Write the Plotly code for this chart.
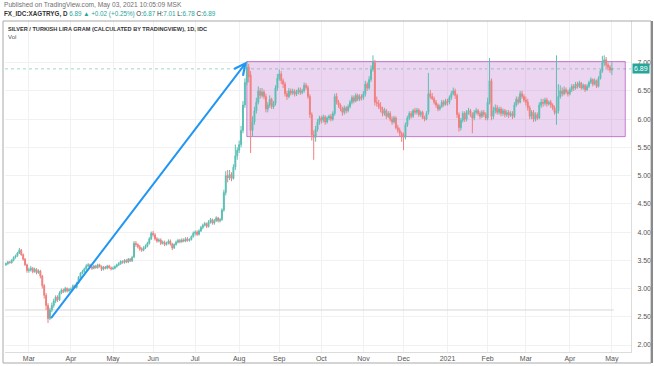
import pandas as pd
import plotly.graph_objects as go

# ---------------- data ----------------
START_DATE = "2020-02-13"
END_DATE = "2021-05-03"

OPEN = [
    3.42, 3.44, 3.47, 3.46, 3.50, 3.55, 3.58, 3.63, 3.68, 3.60, 3.52, 3.42,
    3.32, 3.33, 3.36, 3.30, 3.34, 3.28, 3.31, 3.22, 3.05, 2.88, 2.70, 2.47, 2.62, 2.70, 2.78, 2.85, 2.80, 2.92, 2.97, 2.95, 3.00, 2.96,
    2.98, 2.99, 3.05, 3.02, 3.10, 3.20, 3.27, 3.30, 3.35, 3.40, 3.42, 3.38, 3.36, 3.40, 3.37, 3.42, 3.39, 3.34, 3.38, 3.36, 3.40, 3.37,
    3.35, 3.36, 3.39, 3.42, 3.44, 3.48, 3.46, 3.50, 3.47, 3.52, 3.49, 3.56, 3.80, 3.78, 3.74, 3.70, 3.68, 3.72, 3.75, 3.80, 3.88,
    3.98, 3.95, 3.88, 3.84, 3.86, 3.80, 3.82, 3.78, 3.80, 3.84, 3.79, 3.72, 3.78, 3.82, 3.85, 3.83, 3.86, 3.84, 3.88, 3.85, 3.87, 3.92,
    3.98, 4.00, 3.96, 4.02, 4.08, 4.12, 4.15, 4.10, 4.18, 4.22, 4.16, 4.20, 4.25, 4.20, 4.22, 4.39, 4.70, 5.00, 4.96, 5.02, 4.95, 5.15, 5.35,
    5.45, 5.55, 5.80, 6.25, 6.65, 6.92, 6.78, 5.80, 5.95, 6.15, 6.30, 6.50, 6.42, 6.48, 6.40, 6.18, 6.25, 6.35, 6.22, 6.28, 6.55,
    6.72, 6.80, 6.68, 6.62, 6.45, 6.40, 6.50, 6.46, 6.50, 6.44, 6.48, 6.52, 6.47, 6.50, 6.60, 6.56, 6.40, 6.08, 5.72, 5.68, 5.82, 5.95,
    6.02, 5.98, 6.04, 5.95, 6.02, 6.05, 6.00, 6.10, 6.40, 6.30, 6.25, 6.18, 6.12, 6.20, 6.15, 6.22, 6.30, 6.38, 6.32, 6.42, 6.35, 6.40,
    6.38, 6.45, 6.62, 6.55, 6.70, 6.88, 7.00, 6.30, 6.28, 6.22, 6.18, 6.10, 6.15, 6.05, 6.10, 6.00, 5.95, 6.02, 5.85, 5.80, 5.75,
    5.72, 5.68, 5.90, 6.02, 6.10, 6.05, 6.15, 6.12, 6.16, 6.08, 6.12, 6.02, 6.00, 6.12, 6.45, 6.40, 6.36, 6.30, 6.25, 6.18, 6.22, 6.30, 6.26,
    6.32, 6.30, 6.38, 6.45, 6.50, 6.42, 6.08, 5.85, 5.98, 6.10, 6.00, 6.12, 6.15, 6.08, 6.02, 6.12, 6.15, 6.10, 6.05, 6.12, 6.08,
    6.02, 6.30, 6.68, 6.05, 6.15, 6.20, 6.12, 6.18, 6.10, 6.15, 6.08, 6.12, 6.07, 6.10, 6.05, 6.25, 6.35, 6.30, 6.45, 6.40,
    6.34, 6.30, 6.20, 6.05, 6.12, 6.00, 6.08, 6.02, 6.25, 6.30, 6.28, 6.34, 6.27, 6.30, 6.25, 6.20, 6.10, 6.15, 6.40, 6.50, 6.45, 6.52, 6.48,
    6.45, 6.52, 6.58, 6.55, 6.62, 6.58, 6.64, 6.55, 6.60, 6.52, 6.58, 6.65, 6.70, 6.62, 6.68, 6.58, 6.72, 6.85, 7.00, 7.05, 6.96, 6.92,
    6.87,
]
HIGH = [
    3.46, 3.49, 3.49, 3.52, 3.57, 3.60, 3.65, 3.72, 3.70, 3.62, 3.54, 3.44,
    3.37, 3.40, 3.38, 3.37, 3.36, 3.34, 3.33, 3.24, 3.08, 2.92, 2.74, 2.66, 2.75, 2.82, 2.88, 2.88, 2.95, 3.00, 3.00, 3.03, 3.02, 3.01,
    3.02, 3.07, 3.07, 3.12, 3.22, 3.29, 3.33, 3.37, 3.43, 3.45, 3.44, 3.40, 3.42, 3.42, 3.44, 3.44, 3.41, 3.40, 3.40, 3.42, 3.42, 3.39,
    3.39, 3.41, 3.44, 3.47, 3.50, 3.50, 3.52, 3.52, 3.54, 3.54, 3.58, 3.84, 3.84, 3.80, 3.77, 3.73, 3.75, 3.78, 3.83, 3.91, 4.01,
    4.02, 3.98, 3.91, 3.89, 3.89, 3.85, 3.85, 3.83, 3.87, 3.87, 3.81, 3.80, 3.85, 3.88, 3.88, 3.89, 3.89, 3.91, 3.91, 3.89, 3.94, 4.01,
    4.03, 4.03, 4.05, 4.11, 4.15, 4.18, 4.17, 4.21, 4.25, 4.24, 4.23, 4.28, 4.27, 4.25, 4.42, 4.75, 5.08, 5.10, 5.10, 5.06, 5.20, 5.55, 5.50,
    5.62, 5.88, 6.32, 6.72, 7.02, 6.98, 6.85, 6.05, 6.22, 6.38, 6.58, 6.55, 6.55, 6.52, 6.45, 6.30, 6.42, 6.38, 6.32, 6.60, 6.80,
    6.88, 6.85, 6.72, 6.66, 6.50, 6.55, 6.54, 6.54, 6.53, 6.52, 6.56, 6.56, 6.54, 6.65, 6.64, 6.60, 6.44, 6.12, 5.80, 5.88, 6.00, 6.06,
    6.06, 6.08, 6.07, 6.05, 6.08, 6.09, 6.14, 6.45, 6.46, 6.34, 6.28, 6.22, 6.24, 6.23, 6.26, 6.34, 6.42, 6.42, 6.46, 6.45, 6.44, 6.44,
    6.50, 6.68, 6.66, 6.76, 6.95, 7.13, 7.05, 6.40, 6.34, 6.30, 6.22, 6.20, 6.18, 6.14, 6.14, 6.05, 6.06, 6.05, 5.90, 5.85, 5.78,
    5.76, 5.94, 6.06, 6.14, 6.14, 6.18, 6.20, 6.20, 6.19, 6.15, 6.15, 6.06, 6.14, 6.82, 6.52, 6.46, 6.40, 6.34, 6.28, 6.26, 6.34, 6.34, 6.36,
    6.36, 6.42, 6.50, 6.56, 6.54, 6.45, 6.12, 6.02, 6.14, 6.14, 6.16, 6.20, 6.18, 6.12, 6.16, 6.20, 6.18, 6.14, 6.16, 6.16, 6.12,
    6.38, 7.08, 6.72, 6.22, 6.26, 6.25, 6.22, 6.22, 6.19, 6.18, 6.16, 6.16, 6.14, 6.14, 6.30, 6.40, 6.40, 6.50, 6.50, 6.44,
    6.40, 6.36, 6.24, 6.16, 6.16, 6.12, 6.12, 6.30, 6.36, 6.36, 6.38, 6.38, 6.33, 6.34, 6.28, 6.24, 7.13, 6.62, 6.60, 6.56, 6.58, 6.56, 6.52,
    6.56, 6.62, 6.62, 6.66, 6.66, 6.68, 6.66, 6.63, 6.62, 6.62, 6.68, 6.74, 6.72, 6.72, 6.70, 6.76, 6.88, 7.12, 7.13, 7.10, 7.00, 6.96,
    7.01,
]
LOW = [
    3.40, 3.42, 3.44, 3.44, 3.48, 3.53, 3.56, 3.61, 3.58, 3.49, 3.40, 3.28,
    3.28, 3.30, 3.27, 3.28, 3.25, 3.26, 3.18, 3.00, 2.82, 2.62, 2.39, 2.44, 2.58, 2.66, 2.74, 2.76, 2.78, 2.90, 2.92, 2.93, 2.93, 2.94,
    2.95, 2.97, 3.00, 3.00, 3.08, 3.18, 3.25, 3.28, 3.33, 3.38, 3.36, 3.33, 3.34, 3.35, 3.35, 3.37, 3.31, 3.32, 3.34, 3.34, 3.35, 3.32,
    3.33, 3.34, 3.37, 3.40, 3.42, 3.44, 3.44, 3.45, 3.45, 3.47, 3.47, 3.54, 3.74, 3.71, 3.67, 3.65, 3.66, 3.70, 3.73, 3.78, 3.86,
    3.92, 3.85, 3.81, 3.82, 3.77, 3.78, 3.75, 3.76, 3.78, 3.76, 3.68, 3.70, 3.76, 3.80, 3.80, 3.81, 3.82, 3.82, 3.83, 3.83, 3.85, 3.90,
    3.94, 3.93, 3.94, 4.00, 4.05, 4.10, 4.07, 4.08, 4.15, 4.13, 4.13, 4.18, 4.17, 4.17, 4.20, 4.36, 4.65, 4.88, 4.92, 4.90, 4.93, 5.10, 5.28,
    5.40, 5.50, 5.75, 6.20, 6.60, 6.65, 5.40, 5.70, 5.90, 6.10, 6.26, 6.36, 6.38, 6.35, 6.12, 6.12, 6.20, 6.18, 6.18, 6.24, 6.50,
    6.68, 6.62, 6.55, 6.40, 6.34, 6.37, 6.42, 6.43, 6.40, 6.41, 6.44, 6.43, 6.44, 6.47, 6.52, 6.36, 6.02, 5.62, 5.28, 5.60, 5.78, 5.90,
    5.92, 5.94, 5.90, 5.92, 5.98, 5.96, 5.97, 6.06, 6.26, 6.20, 6.14, 6.06, 6.08, 6.10, 6.12, 6.19, 6.26, 6.28, 6.30, 6.32, 6.32, 6.33,
    6.34, 6.40, 6.50, 6.52, 6.66, 6.84, 6.24, 6.22, 6.18, 6.12, 6.05, 6.06, 6.00, 6.02, 5.96, 5.90, 5.92, 5.82, 5.76, 5.70, 5.60,
    5.45, 5.64, 5.86, 5.98, 6.01, 6.02, 6.08, 6.08, 6.04, 6.04, 6.00, 5.96, 5.98, 6.08, 6.36, 6.34, 6.26, 6.20, 6.14, 6.15, 6.20, 6.22, 6.24,
    6.24, 6.26, 6.34, 6.42, 6.36, 6.02, 5.78, 5.80, 5.94, 5.95, 5.96, 6.08, 6.04, 5.75, 5.98, 6.08, 6.06, 6.00, 6.02, 6.04, 5.98,
    5.98, 6.26, 5.98, 6.00, 6.10, 6.08, 6.08, 6.05, 6.06, 6.03, 6.04, 6.02, 6.04, 6.00, 6.02, 6.22, 6.26, 6.28, 6.36, 6.30,
    6.24, 6.15, 6.00, 6.00, 5.95, 5.96, 5.98, 6.00, 6.20, 6.22, 6.24, 6.22, 6.24, 6.20, 6.16, 6.08, 5.90, 6.10, 6.36, 6.40, 6.42, 6.44, 6.40,
    6.42, 6.48, 6.50, 6.52, 6.54, 6.55, 6.52, 6.52, 6.48, 6.50, 6.55, 6.62, 6.58, 6.60, 6.55, 6.56, 6.70, 6.82, 6.94, 6.90, 6.86, 6.82,
    6.78,
]
CLOSE = [
    3.44, 3.47, 3.46, 3.50, 3.55, 3.58, 3.63, 3.68, 3.60, 3.52, 3.42, 3.32,
    3.33, 3.36, 3.30, 3.34, 3.28, 3.31, 3.22, 3.05, 2.88, 2.70, 2.47, 2.62, 2.70, 2.78, 2.85, 2.80, 2.92, 2.97, 2.95, 3.00, 2.96, 2.98,
    2.99, 3.05, 3.02, 3.10, 3.20, 3.27, 3.30, 3.35, 3.40, 3.42, 3.38, 3.36, 3.40, 3.37, 3.42, 3.39, 3.34, 3.38, 3.36, 3.40, 3.37, 3.35,
    3.36, 3.39, 3.42, 3.44, 3.48, 3.46, 3.50, 3.47, 3.52, 3.49, 3.55, 3.80, 3.78, 3.74, 3.70, 3.68, 3.72, 3.75, 3.80, 3.88, 3.98,
    3.95, 3.88, 3.84, 3.86, 3.80, 3.82, 3.78, 3.80, 3.84, 3.79, 3.72, 3.78, 3.82, 3.85, 3.83, 3.86, 3.84, 3.88, 3.85, 3.87, 3.92, 3.98,
    4.00, 3.96, 4.02, 4.08, 4.12, 4.15, 4.10, 4.18, 4.22, 4.16, 4.20, 4.25, 4.20, 4.22, 4.39, 4.70, 5.00, 4.96, 5.02, 4.95, 5.15, 5.35, 5.45,
    5.55, 5.80, 6.25, 6.65, 6.92, 6.75, 5.80, 5.95, 6.15, 6.30, 6.50, 6.42, 6.48, 6.40, 6.18, 6.25, 6.35, 6.22, 6.28, 6.55, 6.72,
    6.80, 6.68, 6.62, 6.45, 6.40, 6.50, 6.46, 6.50, 6.44, 6.48, 6.52, 6.47, 6.50, 6.60, 6.56, 6.40, 6.08, 5.72, 5.68, 5.82, 5.95, 6.02,
    5.98, 6.04, 5.95, 6.02, 6.05, 6.00, 6.10, 6.40, 6.30, 6.25, 6.18, 6.12, 6.20, 6.15, 6.22, 6.30, 6.38, 6.32, 6.42, 6.35, 6.40, 6.38,
    6.45, 6.62, 6.55, 6.70, 6.88, 7.02, 6.30, 6.28, 6.22, 6.18, 6.10, 6.15, 6.05, 6.10, 6.00, 5.95, 6.02, 5.85, 5.80, 5.75, 5.70,
    5.68, 5.90, 6.02, 6.10, 6.05, 6.15, 6.12, 6.16, 6.08, 6.12, 6.02, 6.00, 6.10, 6.45, 6.40, 6.36, 6.30, 6.25, 6.18, 6.22, 6.30, 6.26, 6.32,
    6.30, 6.38, 6.45, 6.50, 6.42, 6.08, 5.85, 5.98, 6.10, 6.00, 6.12, 6.15, 6.08, 6.02, 6.12, 6.15, 6.10, 6.05, 6.12, 6.08, 6.02,
    6.30, 6.68, 6.05, 6.15, 6.20, 6.12, 6.18, 6.10, 6.15, 6.08, 6.12, 6.07, 6.10, 6.05, 6.25, 6.35, 6.30, 6.45, 6.40, 6.34,
    6.30, 6.20, 6.05, 6.12, 6.00, 6.08, 6.02, 6.25, 6.30, 6.28, 6.34, 6.27, 6.30, 6.25, 6.20, 6.12, 6.15, 6.40, 6.50, 6.45, 6.52, 6.48, 6.45,
    6.52, 6.58, 6.55, 6.62, 6.58, 6.64, 6.55, 6.60, 6.52, 6.58, 6.65, 6.70, 6.62, 6.68, 6.58, 6.72, 6.85, 7.00, 7.05, 6.96, 6.92, 6.87,
    6.89,
]

MONTH_TICKS = ["2020-03-02", "2020-04-01", "2020-05-01", "2020-06-01", "2020-07-01",
               "2020-08-03", "2020-09-01", "2020-10-01", "2020-11-02", "2020-12-01",
               "2021-01-01", "2021-02-01", "2021-03-01", "2021-04-01", "2021-05-03"]
MONTH_LABELS = ["Mar", "Apr", "May", "Jun", "Jul", "Aug", "Sep", "Oct", "Nov", "Dec",
                "2021", "Feb", "Mar", "Apr", "May"]
PRICE_TICKS = [2.0, 2.5, 3.0, 3.5, 4.0, 4.5, 5.0, 5.5, 6.0, 6.5, 7.0]

ARROW_FROM = ("2020-03-17", 2.45)
ARROW_TO = ("2020-08-07", 7.02)
BOX_X = ("2020-08-07", "2021-05-12")
BOX_Y = (5.69, 7.02)
LAST_PRICE = 6.89
H_LINE = 2.62
H_LINE_END = "2021-05-04"

X_RANGE = ["2020-02-12 12:00", "2021-05-17"]
Y_RANGE = [1.876, 7.738]

UP = "#26a69a"
DOWN = "#ef5350"
UP_C = "#5cbfb4"
DOWN_C = "#f0807e"

# ---------------- figure ----------------
n = min(len(OPEN), len(HIGH), len(LOW), len(CLOSE))
dates = pd.bdate_range(START_DATE, END_DATE)[:n]

fig = go.Figure(go.Candlestick(
    x=dates, open=OPEN[:n], high=HIGH[:n], low=LOW[:n], close=CLOSE[:n],
    increasing=dict(line=dict(color=UP_C, width=1), fillcolor=UP_C),
    decreasing=dict(line=dict(color=DOWN_C, width=1), fillcolor=DOWN_C),
    whiskerwidth=0, hoverinfo="skip", showlegend=False,
))

PL, PR, PT, PB = 5, 631, 21, 352


def pxx(x):
    return (x - PL) / (PR - PL)


def pxy(y):
    return (PB - y) / (PB - PT)


FONT = "Liberation Sans, Arial, sans-serif"

fig.update_layout(
    width=654, height=366,
    margin=dict(l=PL, r=654 - PR, t=PT, b=366 - PB, pad=0, autoexpand=False),
    paper_bgcolor="white", plot_bgcolor="white",
    font=dict(family=FONT, size=7, color="#4a4a4a"),
    showlegend=False,
    xaxis=dict(
        type="date", range=X_RANGE,
        rangebreaks=[dict(bounds=["sat", "mon"])],
        rangeslider=dict(visible=False),
        tickmode="array", tickvals=MONTH_TICKS, ticktext=MONTH_LABELS,
        tickfont=dict(size=7, color="#555555"),
        showgrid=True, gridcolor="#f1f1f4", gridwidth=1,
        showline=True, linecolor="#dcdcdc", linewidth=1,
        ticks="", zeroline=False, fixedrange=True, automargin=False,
    ),
    yaxis=dict(
        side="right", range=Y_RANGE,
        tickmode="array", tickvals=PRICE_TICKS,
        ticktext=[f"{v:.2f}" for v in PRICE_TICKS],
        tickfont=dict(size=7, color="#555555"),
        showgrid=True, gridcolor="#f1f1f4", gridwidth=1,
        showline=True, linecolor="#dcdcdc", linewidth=1,
        ticks="", zeroline=False, fixedrange=True, automargin=False,
        ticklabelstandoff=4,
    ),
)

shapes = []
# outer frame
shapes.append(dict(type="rect", xref="paper", yref="paper",
                   x0=pxx(3), x1=pxx(651), y0=pxy(363), y1=pxy(21),
                   line=dict(color="#a9a9a9", width=1), fillcolor="rgba(0,0,0,0)",
                   layer="above"))
shapes.append(dict(type="line", xref="paper", yref="paper",
                   x0=pxx(652), x1=pxx(652), y0=pxy(363), y1=pxy(21),
                   line=dict(color="#8a8a8a", width=2), layer="above"))
# purple rectangle
shapes.append(dict(type="rect", xref="x", yref="y",
                   x0=BOX_X[0], x1=BOX_X[1], y0=BOX_Y[0], y1=BOX_Y[1],
                   fillcolor="rgba(186,104,200,0.28)",
                   line=dict(color="rgba(156,39,176,0.55)", width=1),
                   layer="between"))
# gray horizontal line
shapes.append(dict(type="line", xref="x", yref="y",
                   x0=X_RANGE[0], x1=H_LINE_END, y0=H_LINE, y1=H_LINE,
                   line=dict(color="#d6d6d6", width=1), layer="between"))
# last price line
shapes.append(dict(type="line", xref="paper", yref="y",
                   x0=0, x1=1, y0=LAST_PRICE, y1=LAST_PRICE,
                   line=dict(color="rgba(38,166,154,0.45)", width=1, dash="dot"),
                   layer="between"))
fig.update_layout(shapes=shapes)

ann = []
ann.append(dict(xref="paper", yref="paper", x=pxx(2), y=pxy(5), xanchor="left", yanchor="middle",
                text="Published on TradingView.com, May 03, 2021 10:05:09 MSK",
                showarrow=False, font=dict(size=6.6, color="#6f6f6f")))
hdr = ("<b>FX_IDC:XAGTRYG, D</b> "
       f"<span style='color:{UP}'>6.89 ▲ +0.02 (+0.25%)</span> "
       f"O:<span style='color:{UP}'>6.87</span> "
       f"H:<span style='color:{UP}'>7.01</span> "
       f"L:<span style='color:{UP}'>6.78</span> "
       f"C:<span style='color:{UP}'>6.89</span>")
ann.append(dict(xref="paper", yref="paper", x=pxx(2), y=pxy(14), xanchor="left", yanchor="middle",
                text=hdr, showarrow=False, font=dict(size=6.3, color="#333333")))
ann.append(dict(xref="paper", yref="paper", x=pxx(6), y=pxy(29), xanchor="left", yanchor="middle",
                text="<b>SILVER / TURKISH LIRA GRAM (CALCULATED BY TRADINGVIEW), 1D, IDC</b>",
                showarrow=False, font=dict(size=5.6, color="#333333")))
ann.append(dict(xref="paper", yref="paper", x=pxx(6), y=pxy(37.5), xanchor="left", yanchor="middle",
                text="Vol", showarrow=False, font=dict(size=6, color="#555555")))
# price label
ann.append(dict(xref="paper", yref="y", x=pxx(632), y=LAST_PRICE, xanchor="left", yanchor="middle",
                text="6.89", showarrow=False, bgcolor=UP, borderpad=1,
                font=dict(size=7, color="white")))
# blue arrow
ann.append(dict(xref="x", yref="y", axref="x", ayref="y",
                x=ARROW_TO[0], y=ARROW_TO[1], ax=ARROW_FROM[0], ay=ARROW_FROM[1],
                text="", showarrow=True, arrowhead=5, arrowsize=1.1, arrowwidth=2,
                arrowcolor="#2196f3", standoff=0, startstandoff=0))
fig.update_layout(annotations=ann)

fig.write_html("out.html", config={"displayModeBar": False},
               post_script="document.body.style.margin='0';document.body.style.overflow='hidden';")
